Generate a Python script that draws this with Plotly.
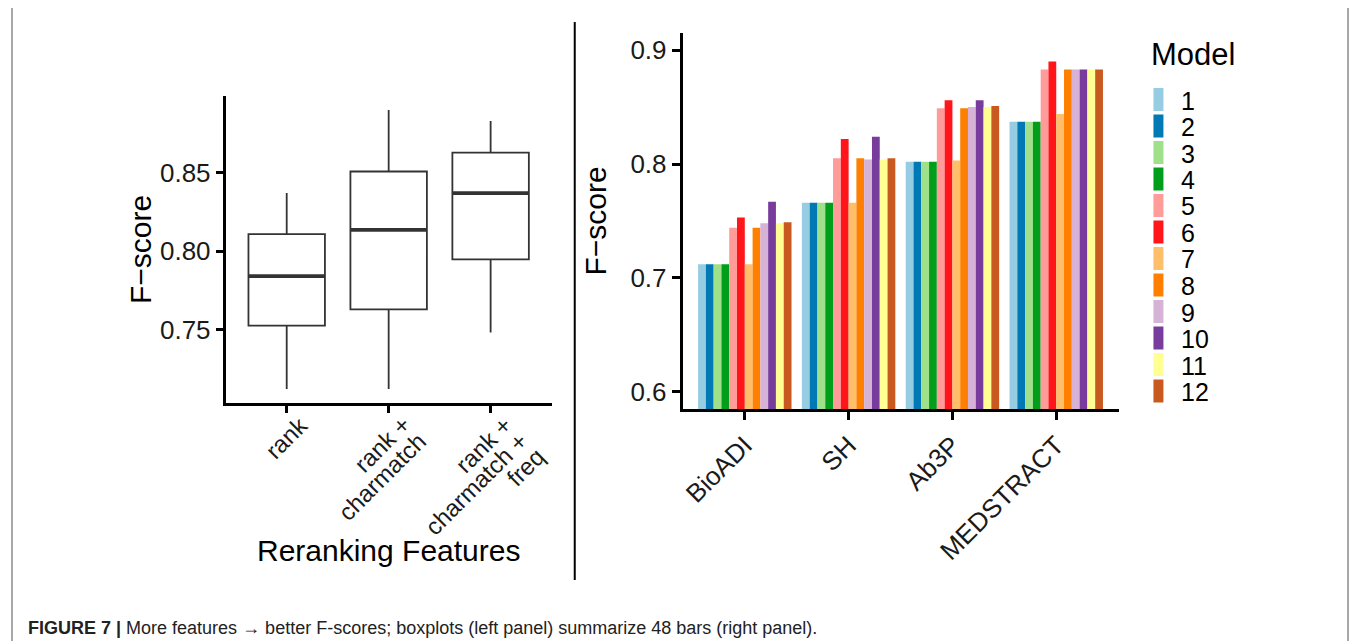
import numpy as np
import plotly.graph_objects as go

# ---------------- data ----------------
datasets = ["BioADI", "SH", "Ab3P", "MEDSTRACT"]
models = ["1", "2", "3", "4", "5", "6", "7", "8", "9", "10", "11", "12"]

bioadi = [0.712, 0.712, 0.712, 0.712, 0.744, 0.753, 0.712, 0.744, 0.748, 0.767, 0.748, 0.749]
sh = [0.766, 0.766, 0.766, 0.766, 0.805, 0.822, 0.766, 0.805, 0.804, 0.824, 0.804, 0.805]
ab3p = [0.802, 0.802, 0.802, 0.802, 0.849, 0.856, 0.803, 0.849, 0.850, 0.856, 0.850, 0.851]
medstract = [0.837, 0.837, 0.837, 0.837, 0.883, 0.890, 0.844, 0.883, 0.883, 0.883, 0.883, 0.883]

feature_sets = ["rank", "rank +\ncharmatch", "rank +\ncharmatch +\nfreq"]
model_feature = [0, 0, 0, 0, 1, 1, 1, 1, 2, 2, 2, 2]

model_colors = ["#96CDE2", "#0079B5", "#A0E08A", "#009E1A", "#FF9C9A", "#FF151A",
                "#FFBF6A", "#FF8000", "#D5B2D6", "#783C9C", "#FFFF94", "#C85A20"]

caption = "<b>FIGURE 7 |</b> More features \u2192 better F-scores; boxplots (left panel) summarize 48 bars (right panel)."

# ---------------- figure ----------------
OFF = 8                      # page body margin
W, H = 1357 - OFF, 641 - OFF
FONT = "Liberation Sans, Arial, Helvetica, sans-serif"


def fx(p):
    return (p - OFF) / W


def fy(p):
    return 1 - (p - OFF) / H


fig = go.Figure()

table = np.array([bioadi, sh, ab3p, medstract])  # datasets x models

# --- left panel: boxplots summarising the bars by feature set ---
all_vals = []
for g in range(len(feature_sets)):
    vals = np.array([table[d, m] for m in range(len(models)) if model_feature[m] == g
                     for d in range(len(datasets))])
    all_vals.extend(vals.tolist())
    q1, med, q3 = np.percentile(vals, [25, 50, 75])
    iqr = q3 - q1
    lo = vals[vals >= q1 - 1.5 * iqr].min()
    hi = vals[vals <= q3 + 1.5 * iqr].max()
    fig.add_trace(go.Box(
        x=[g + 1], q1=[q1], median=[med], q3=[q3], lowerfence=[lo], upperfence=[hi],
        name=feature_sets[g].replace("\n", " "),
        width=0.75, whiskerwidth=0, fillcolor="white",
        line=dict(color="#333333", width=1.8), boxpoints=False,
        xaxis="x", yaxis="y", showlegend=False, hoverinfo="skip"))
    fig.add_trace(go.Scatter(
        x=[g + 1 - 0.375, g + 1 + 0.375], y=[med, med], mode="lines",
        line=dict(color="#333333", width=3.8), xaxis="x", yaxis="y",
        showlegend=False, hoverinfo="skip"))

lo_all, hi_all = min(all_vals), max(all_vals)
pad = 0.05 * (hi_all - lo_all)

# --- right panel: grouped bars ---
for m, name in enumerate(models):
    fig.add_trace(go.Bar(
        x=datasets, y=table[:, m], name=name,
        marker=dict(color=model_colors[m], line=dict(width=0)),
        xaxis="x2", yaxis="y2", showlegend=False))

TICKC = "#1a1a1a"
axis_common = dict(showline=True, linecolor="black", linewidth=2.5, ticks="outside",
                   tickcolor="black", tickwidth=2.5, showgrid=False, zeroline=False)

shapes = [
    dict(type="rect", xref="paper", yref="paper", x0=fx(9), x1=fx(1348), y0=-0.03, y1=fy(7),
         line=dict(color="#8C8C8C", width=1.5), fillcolor="rgba(0,0,0,0)", layer="below"),
    dict(type="line", xref="paper", yref="paper", x0=fx(573), x1=fx(573), y0=fy(580), y1=fy(22),
         line=dict(color="black", width=2)),
]
annotations = [
    dict(text=caption, xref="paper", yref="paper", x=fx(23), y=fy(628), xanchor="left",
         yanchor="middle", showarrow=False, font=dict(family=FONT, size=18, color="#222222")),
    dict(text="Reranking Features", xref="paper", yref="paper", x=fx(386), y=fy(550),
         xanchor="center", yanchor="middle", showarrow=False,
         font=dict(family=FONT, size=30, color="black")),
    dict(text="Model", xref="paper", yref="paper", x=fx(1149), y=fy(55),
         xanchor="left", yanchor="middle", showarrow=False,
         font=dict(family=FONT, size=31, color="black")),
]

# left x tick labels: rotated 45 deg, right-justified lines, tight line spacing
LBL_FS, LINE_D = 24, 16
for g, label in enumerate(feature_sets):
    for k, line in enumerate(label.split("\n")):
        annotations.append(dict(
            text=line, xref="x", yref="paper", x=g + 1, xshift=28 + LINE_D * k,
            y=fy(410 + LINE_D * k), xanchor="right", yanchor="top", textangle=-45,
            showarrow=False, borderpad=0,
            font=dict(family=FONT, size=LBL_FS, color=TICKC)))

# legend (ggplot style tall keys)
key_top, key_step, key_h = 88, 26.5, 23
for m, name in enumerate(models):
    top = key_top + m * key_step
    shapes.append(dict(type="rect", xref="paper", yref="paper",
                       x0=fx(1153), x1=fx(1163), y0=fy(top + key_h), y1=fy(top),
                       line=dict(width=0), fillcolor=model_colors[m]))
    annotations.append(dict(text=name, xref="paper", yref="paper", x=fx(1179),
                            y=fy(top + key_h / 2 + 1), xanchor="left", yanchor="middle",
                            showarrow=False, font=dict(family=FONT, size=25, color="black")))

fig.update_layout(
    width=W, height=H, margin=dict(l=0, r=0, t=0, b=0),
    paper_bgcolor="white", plot_bgcolor="white",
    font=dict(family=FONT, color="black"),
    barmode="group", bargap=0.1, bargroupgap=0, showlegend=False,
    xaxis=dict(domain=[fx(223), fx(550)], anchor="y", range=[0.4, 3.6],
               tickvals=[1, 2, 3], showticklabels=False, ticklen=7, **axis_common),
    yaxis=dict(domain=[fy(403), fy(96)], anchor="x", range=[lo_all - pad, hi_all + pad],
               tickvals=[0.75, 0.80, 0.85], tickformat=".2f", ticklen=7,
               tickfont=dict(family=FONT, size=26, color=TICKC),
               title=dict(text="F\u2212score", font=dict(size=30), standoff=0),
               **axis_common),
    xaxis2=dict(domain=[fx(681), fx(1118)], anchor="y2", range=[-0.6, 3.6],
                tickangle=-45, ticklen=8, tickfont=dict(family=FONT, size=26, color=TICKC),
                **axis_common),
    yaxis2=dict(domain=[fy(409), fy(33)], anchor="x2", range=[0.585, 0.915],
                tickvals=[0.6, 0.7, 0.8, 0.9], tickformat=".1f", ticklen=8,
                tickfont=dict(family=FONT, size=26, color=TICKC),
                title=dict(text="F\u2212score", font=dict(size=30), standoff=15),
                **axis_common),
    shapes=shapes,
    annotations=annotations,
)

fig.write_html("out.html")
